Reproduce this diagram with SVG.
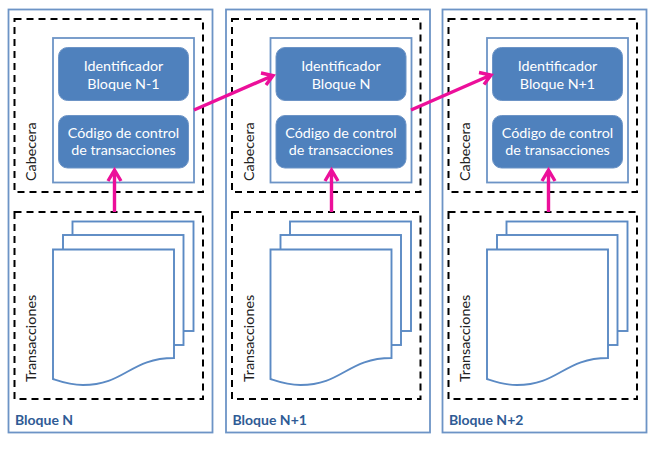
<svg xmlns="http://www.w3.org/2000/svg" xmlns:xlink="http://www.w3.org/1999/xlink" width="664" height="449" viewBox="0 0 664 449">
<style>
text{font-family:Lato,"Liberation Sans",sans-serif}
.outer,.inner{fill:#fff;stroke:#6d94c6;stroke-width:1.8}
.page{fill:#fff;stroke:#5b8ac4;stroke-width:1.9}
.dash{fill:none;stroke:#000;stroke-width:2;stroke-dasharray:7 5}
.box{fill:#4f81bd;stroke:#6d94c6;stroke-width:1}
.w{fill:#fff;font-size:14.3px;text-anchor:middle}
.side{fill:#222;font-size:14.3px}
.title{fill:#2f5b95;font-size:14px;font-weight:700}
.conn{fill:none;stroke:#ec0f9a;stroke-width:3.4}
</style>
<defs>
<g id="col">
<rect class="outer" x="8.5" y="9.5" width="204" height="423"/>
<rect class="dash" x="14.5" y="19" width="188.5" height="173"/>
<rect class="inner" x="53" y="38" width="141" height="144.5"/>
<rect class="box" x="58.5" y="47.5" width="130" height="53" rx="9"/>
<rect class="box" x="58.5" y="115.5" width="130" height="52.5" rx="9"/>
<rect class="dash" x="14.5" y="212" width="188.5" height="187"/>
<rect class="page" x="72.5" y="221.5" width="121" height="109.5"/>
<rect class="page" x="63" y="235" width="120.5" height="110"/>
<path class="page" d="M53 249.5H174V358C130 358 125 385 83 385C70 385 62 382 53 379Z"/>
<text class="side" transform="translate(36 181) rotate(-90)">Cabecera</text>
<text class="side" transform="translate(36 382) rotate(-90)">Transacciones</text>
<text class="w" x="123.5" y="137.5">Código de control</text>
<text class="w" x="123.5" y="155">de transacciones</text>
</g>
</defs>
<g id="bloque-n">
<use xlink:href="#col" href="#col"/>
<text class="w" x="123.5" y="71">Identificador</text>
<text class="w" x="123.5" y="89">Bloque N-1</text>
<text class="title" x="15" y="425">Bloque N</text>
</g>
<g id="bloque-n1" transform="translate(217.5 0)">
<use xlink:href="#col" href="#col"/>
<text class="w" x="123.5" y="71">Identificador</text>
<text class="w" x="123.5" y="89">Bloque N</text>
<text class="title" x="15" y="425">Bloque N+1</text>
</g>
<g id="bloque-n2" transform="translate(434 0)">
<use xlink:href="#col" href="#col"/>
<text class="w" x="123.5" y="71">Identificador</text>
<text class="w" x="123.5" y="89">Bloque N+1</text>
<text class="title" x="15" y="425">Bloque N+2</text>
</g>
<g id="connectors">
<path class="conn" d="M114.5 212V170M108 181L114.5 170L121 181"/>
<path class="conn" d="M331.5 212V170M325 181L331.5 170L338 181"/>
<path class="conn" d="M548.5 212V170M542 181L548.5 170L555 181"/>
<path class="conn" d="M194 110L273 75.5M261 73L273 75.5L266 85"/>
<path class="conn" d="M411 110L491 75M479 72.5L491 75L484 84.5"/>
</g>
</svg>
